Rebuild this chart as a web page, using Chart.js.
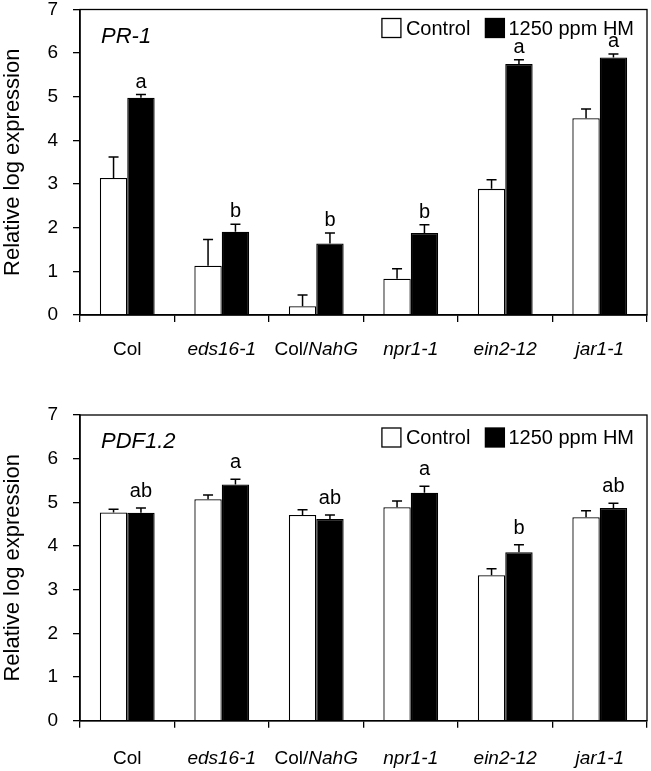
<!DOCTYPE html>
<html>
<head>
<meta charset="utf-8">
<script src="https://cdn.jsdelivr.net/npm/chart.js@4/dist/chart.umd.min.js"></script>
<style>
  html, body { margin: 0; padding: 0; background: #fff; }
  .panel { position: absolute; left: 0; width: 651px; }
  #top { top: 0; height: 380px; }
  #bottom { top: 405px; height: 366px; }
</style>
</head>
<body>
<div class="panel" id="top"><canvas id="pr1"></canvas></div>
<div class="panel" id="bottom"><canvas id="pdf"></canvas></div>
<script>
const genotypes = ["Col", "eds16-1", "Col/NahG", "npr1-1", "ein2-12", "jar1-1"];
const seriesNames = ["Control", "1250 ppm HM"];

// PR-1
const pr1Control = [3.14, 1.13, 0.20, 0.83, 2.89, 4.51];
const pr1ControlErr = [0.48, 0.60, 0.26, 0.23, 0.21, 0.21];
const pr1HM = [4.98, 1.91, 1.64, 1.88, 5.75, 5.90];
const pr1HMErr = [0.07, 0.17, 0.24, 0.19, 0.10, 0.08];
const pr1Letters = ["a", "b", "b", "b", "a", "a"];

// PDF1.2
const pdfControl = [4.77, 5.07, 4.71, 4.89, 3.33, 4.66];
const pdfControlErr = [0.07, 0.10, 0.12, 0.14, 0.15, 0.15];
const pdfHM = [4.76, 5.41, 4.62, 5.22, 3.86, 4.87];
const pdfHMErr = [0.11, 0.12, 0.09, 0.15, 0.17, 0.11];
const pdfLetters = ["ab", "a", "ab", "a", "b", "ab"];

const FONT = "'Liberation Sans', Arial, sans-serif";
Chart.defaults.font.family = FONT;
Chart.defaults.color = "#000";

// "Col" upright, mutants italic, "Col/NahG" mixed
function labelParts(name) {
  if (name === "Col") return [[name, false]];
  if (name.startsWith("Col/")) return [["Col/", false], [name.slice(4), true]];
  return [[name, true]];
}

const decorations = {
  id: "decorations",
  afterDatasetsDraw(chart, args, opts) {
    const ctx = chart.ctx;
    const area = chart.chartArea;
    const y = chart.scales.y;
    const x = chart.scales.x;
    ctx.save();

    // error bars (upper only) with caps
    ctx.strokeStyle = "#000";
    ctx.lineWidth = 1.5;
    opts.errors.forEach((errs, di) => {
      const meta = chart.getDatasetMeta(di);
      const vals = chart.data.datasets[di].data;
      meta.data.forEach((bar, i) => {
        const top = y.getPixelForValue(vals[i] + errs[i]);
        ctx.beginPath();
        ctx.moveTo(bar.x, bar.y);
        ctx.lineTo(bar.x, top);
        ctx.moveTo(bar.x - 5, top);
        ctx.lineTo(bar.x + 5, top);
        ctx.stroke();
      });
    });

    // significance letters over the treated bars
    ctx.fillStyle = "#000";
    ctx.font = "20px " + FONT;
    ctx.textAlign = "center";
    ctx.textBaseline = "alphabetic";
    const hmMeta = chart.getDatasetMeta(1);
    const hmVals = chart.data.datasets[1].data;
    hmMeta.data.forEach((bar, i) => {
      const top = y.getPixelForValue(hmVals[i] + opts.errors[1][i]);
      ctx.fillText(opts.letters[i], bar.x, top - opts.letterGap);
    });

    // frame
    ctx.lineWidth = 1.3;
    ctx.strokeRect(area.left, area.top, area.right - area.left, area.bottom - area.top);

    // gene name
    ctx.textAlign = "left";
    ctx.font = "italic 22px " + FONT;
    ctx.fillText(opts.gene, area.left + 21, area.top + 33);

    // legend, top right inside the frame
    ctx.font = "20px " + FONT;
    ctx.textBaseline = "middle";
    const ds = chart.data.datasets;
    const w0 = ctx.measureText(ds[0].label).width;
    const w1 = ctx.measureText(ds[1].label).width;
    const boxTop = area.top + opts.legendTop;
    const cy = boxTop + 9.5;
    const t1 = area.right - 13 - w1;
    const b1 = t1 - 23;
    const t0 = b1 - 15 - w0;
    const b0 = t0 - 24;
    [[b0, t0, 0], [b1, t1, 1]].forEach(([bx, tx, k]) => {
      ctx.fillStyle = ds[k].backgroundColor;
      ctx.fillRect(bx, boxTop, 19, 19);
      ctx.lineWidth = 1.3;
      ctx.strokeStyle = "#000";
      ctx.strokeRect(bx, boxTop, 19, 19);
      ctx.fillStyle = "#000";
      ctx.fillText(ds[k].label, tx, cy + 1);
    });

    // category labels
    chart.data.labels.forEach((name, i) => {
      const parts = labelParts(name);
      const widths = parts.map(([t, it]) => {
        ctx.font = (it ? "italic " : "") + "19px " + FONT;
        return ctx.measureText(t).width;
      });
      let cx = x.getPixelForValue(i) - widths.reduce((a, b) => a + b, 0) / 2;
      parts.forEach(([t, it], k) => {
        ctx.font = (it ? "italic " : "") + "19px " + FONT;
        ctx.fillText(t, cx, area.bottom + opts.labelGap);
        cx += widths[k];
      });
    });
    ctx.restore();
  }
};

function makeChart(id, control, hm, errs, letters, gene, pad, xHeight, letterGap, labelGap, legendTop) {
  return new Chart(document.getElementById(id), {
    type: "bar",
    data: {
      labels: genotypes,
      datasets: [
        {
          label: seriesNames[0],
          data: control,
          backgroundColor: "#fff",
          borderColor: "#000",
          borderWidth: 1.3
        },
        {
          label: seriesNames[1],
          data: hm,
          backgroundColor: "#000",
          borderColor: "#000",
          borderWidth: 1.3
        }
      ]
    },
    options: {
      responsive: true,
      maintainAspectRatio: false,
      animation: false,
      layout: { padding: { top: pad, right: 4, left: 0, bottom: 0 } },
      datasets: { bar: { categoryPercentage: 0.58, barPercentage: 1.0 } },
      scales: {
        x: {
          ticks: { display: false },
          grid: { drawOnChartArea: false, tickLength: 7, color: "#000", lineWidth: 1.3 },
          border: { display: true, color: "#000", width: 1.5 },
          afterFit(s) { s.height = xHeight; }
        },
        y: {
          min: 0,
          max: 7,
          ticks: { stepSize: 1, padding: 15, font: { size: 19 }, color: "#000" },
          grid: { drawOnChartArea: false, tickLength: 7, color: "#000", lineWidth: 1.3 },
          border: { display: true, color: "#000", width: 1.5 },
          title: {
            display: true,
            text: "Relative log expression",
            font: { size: 22 },
            color: "#000",
            padding: 0
          },
          afterFit(s) {
            s.width = 80;
            s.paddingTop = 0;
            s.paddingBottom = 0;
          }
        }
      },
      plugins: {
        legend: { display: false },
        tooltip: { enabled: false },
        decorations: {
          errors: errs, letters: letters, gene: gene,
          letterGap: letterGap, labelGap: labelGap, legendTop: legendTop
        }
      }
    },
    plugins: [decorations]
  });
}

makeChart("pr1", pr1Control, pr1HM, [pr1ControlErr, pr1HMErr], pr1Letters, "PR-1", 9.5, 65, 7, 35, 9);
makeChart("pdf", pdfControl, pdfHM, [pdfControlErr, pdfHMErr], pdfLetters, "PDF1.2", 10, 50.3, 11, 38, 13);
</script>
</body>
</html>
